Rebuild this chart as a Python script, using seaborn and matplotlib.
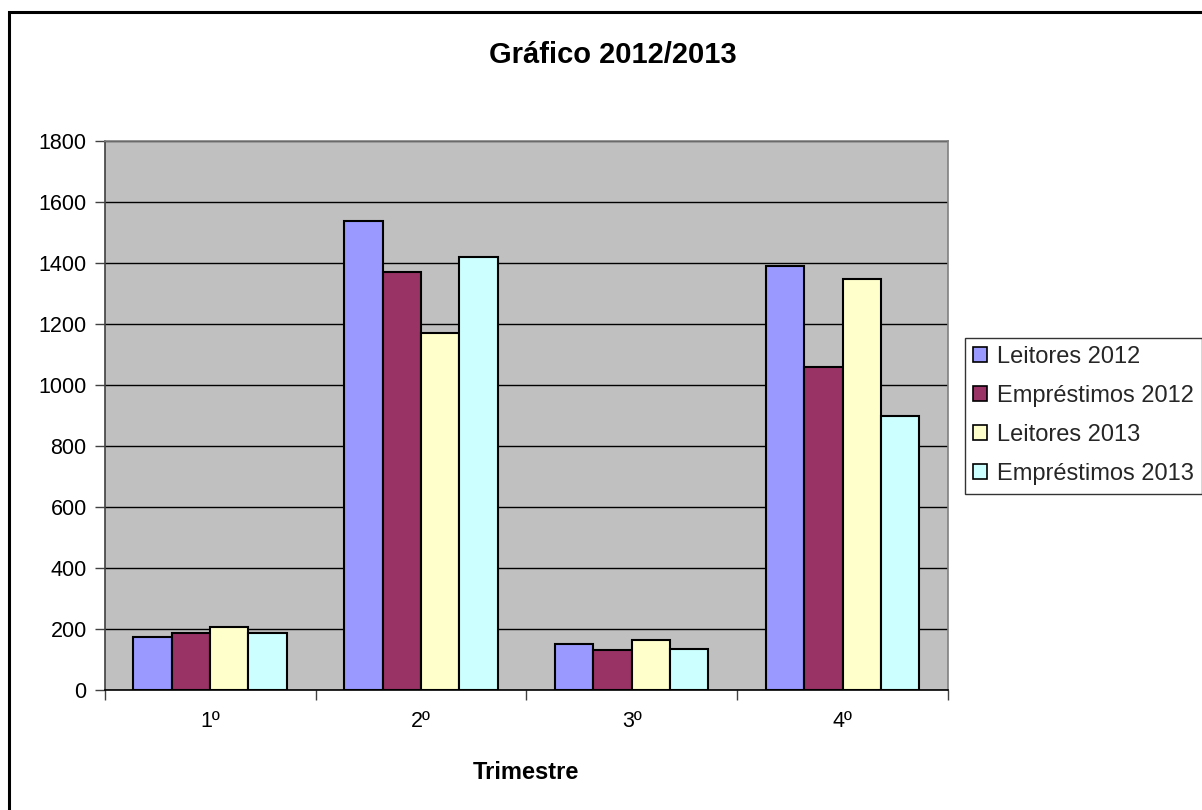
import matplotlib
matplotlib.use("Agg")
import matplotlib.pyplot as plt
import seaborn as sns
import pandas as pd
import numpy as np
from matplotlib.patches import Rectangle
from matplotlib.ticker import FixedLocator

quarters = ["1º", "2º", "3º", "4º"]
series = ["Leitores 2012", "Empréstimos 2012", "Leitores 2013", "Empréstimos 2013"]
leitores_2012 = [174, 1538, 150, 1390]
emprestimos_2012 = [188, 1371, 131, 1058]
leitores_2013 = [206, 1170, 163, 1346]
emprestimos_2013 = [188, 1420, 136, 897]
colors = ["#9999FF", "#993366", "#FFFFCC", "#CCFFFF"]

rows = []
for name, vals in zip(series, [leitores_2012, emprestimos_2012, leitores_2013, emprestimos_2013]):
    for q, v in zip(quarters, vals):
        rows.append({"Trimestre": q, "Série": name, "Valor": v})
df = pd.DataFrame(rows)

sns.set_theme(style="white")
plt.rcParams['font.family'] = ['Liberation Sans', 'DejaVu Sans']

W, H = 1202, 810
fig = plt.figure(figsize=(W / 100, H / 100), dpi=100)
ax = fig.add_axes([104.7 / W, 1 - 690 / H, (948 - 104.7) / W, (690 - 141) / H])
ax.set_facecolor("#C0C0C0")

sns.barplot(data=df, x="Trimestre", y="Valor", hue="Série", hue_order=series,
            order=quarters, palette=colors, width=0.727, gap=0, saturation=1,
            edgecolor="black", linewidth=1.5, ax=ax, legend=True, zorder=3)

ax.set_xlim(-0.5, 3.5)
ax.set_ylim(0, 1800)
ax.set_yticks(np.arange(0, 1801, 200))
ax.yaxis.grid(True, color="black", linewidth=1.0, zorder=0)
ax.set_axisbelow(True)
ax.tick_params(axis="y", which="major", direction="out", length=7, width=1,
               color="#404040", labelsize=15.5, pad=6, left=True)
ax.tick_params(axis="x", which="major", length=0, labelsize=15.5, pad=15)
ax.xaxis.set_minor_locator(FixedLocator([-0.5, 0.5, 1.5, 2.5, 3.5]))
ax.tick_params(axis="x", which="minor", direction="out", length=7, width=1,
               color="#404040", bottom=True)
for lbl in ax.get_yticklabels() + ax.get_xticklabels():
    lbl.set_color("black")

ax.set_xlabel("Trimestre", fontsize=17, fontweight="bold", labelpad=21, color="black")
ax.set_ylabel("")
ax.spines["bottom"].set_color("black")
ax.spines["bottom"].set_linewidth(1.2)
ax.spines["left"].set_color("#404040")
ax.spines["left"].set_linewidth(1.2)
for s in ["top", "right"]:
    ax.spines[s].set_color("#808080")
    ax.spines[s].set_linewidth(1.2)

fig.text(613 / W, 1 - 55 / H, "Gráfico 2012/2013", fontsize=21, fontweight="bold",
         ha="center", va="center", color="black")

handles, labels = ax.get_legend_handles_labels()
ax.legend_.remove()
leg = fig.legend(handles, labels, loc="upper left",
                 bbox_to_anchor=(965 / W, 1 - 338 / H), frameon=True,
                 fontsize=17, handlelength=0.6, handleheight=0.6,
                 handletextpad=0.4, labelspacing=0.72, borderpad=0.35,
                 fancybox=False, edgecolor="black", borderaxespad=0)
leg.get_frame().set_linewidth(1.0)
for h in leg.legend_handles:
    h.set_edgecolor("black")
    h.set_linewidth(1.2)

# outer chart border (extends past right/bottom edges as in the original)
fig.patches.append(Rectangle((9 / W, -0.2), 1.5, 1 - 12 / H + 0.2,
                             transform=fig.transFigure, fill=False,
                             edgecolor="black", linewidth=2.2, clip_on=False))

fig.savefig("out.png", dpi=100, facecolor="white")
